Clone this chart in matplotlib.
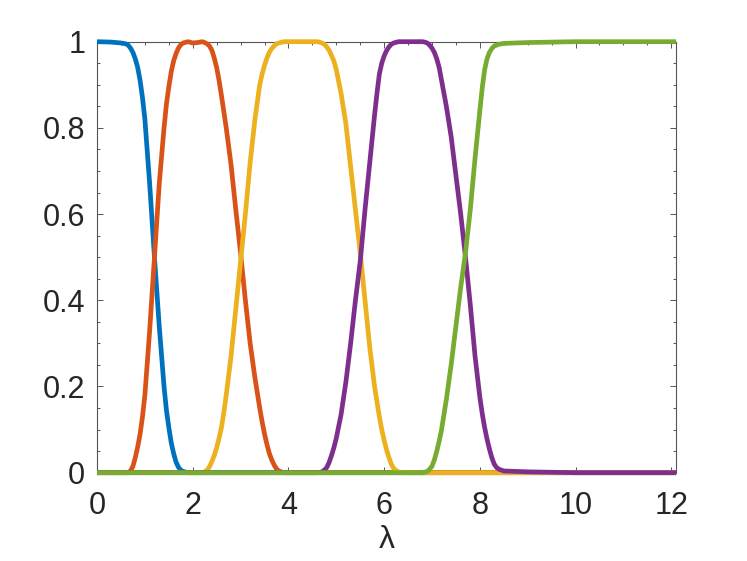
import matplotlib
matplotlib.use("Agg")
import matplotlib.pyplot as plt
from matplotlib.ticker import MultipleLocator

plt.rcParams['font.family'] = ['Liberation Sans', 'DejaVu Sans']

# ---- data ----
blue_x = [0.0, 0.3, 0.5, 0.6, 0.65, 0.7, 0.75, 0.8, 0.85, 0.9, 0.95, 1.0, 1.1, 1.2, 1.3, 1.4, 1.45,
          1.5, 1.55, 1.6, 1.65, 1.7, 1.75, 1.8, 1.9, 12.1]
blue_y = [1.0, 0.999, 0.997, 0.995, 0.992, 0.985, 0.975, 0.96, 0.94, 0.91, 0.87, 0.82, 0.67, 0.50, 0.34, 0.20, 0.145,
          0.105, 0.07, 0.045, 0.025, 0.013, 0.006, 0.003, 0.0, 0.0]

orange_x = [0.0, 0.6, 0.65, 0.7, 0.75, 0.8, 0.85, 0.9, 0.95, 1.0, 1.1, 1.2, 1.3, 1.4, 1.45, 1.5, 1.55, 1.6, 1.65,
            1.7, 1.75, 1.8, 1.9, 2.0, 2.1, 2.2, 2.25, 2.3, 2.35, 2.4, 2.45, 2.5, 2.55, 2.6, 2.7, 2.8, 2.9,
            3.0, 3.1, 3.2, 3.3, 3.4, 3.45, 3.5, 3.55, 3.6, 3.65, 3.7, 3.75, 3.8, 3.9, 12.1]
orange_y = [0.0, 0.0, 0.001, 0.004, 0.015, 0.035, 0.06, 0.09, 0.13, 0.18, 0.33, 0.50, 0.67, 0.80, 0.855, 0.895, 0.93, 0.955, 0.972,
            0.985, 0.993, 0.997, 1.0, 0.997, 0.998, 1.0, 0.998, 0.995, 0.99, 0.98, 0.962, 0.94, 0.91, 0.875, 0.80, 0.715, 0.61,
            0.51, 0.40, 0.30, 0.22, 0.15, 0.118, 0.09, 0.066, 0.045, 0.03, 0.018, 0.009, 0.004, 0.0, 0.0]

yellow_x = [0.0, 2.2, 2.25, 2.3, 2.35, 2.4, 2.45, 2.5, 2.55, 2.6, 2.65, 2.7, 2.8, 2.9, 3.0, 3.1, 3.2, 3.3, 3.4, 3.45,
            3.5, 3.55, 3.6, 3.65, 3.7, 3.75, 3.8, 3.9, 4.6, 4.65, 4.7, 4.75, 4.8, 4.85, 4.9, 4.95, 5.0, 5.1,
            5.2, 5.3, 5.4, 5.5, 5.6, 5.7, 5.8, 5.9, 5.95, 6.0, 6.05, 6.1, 6.15, 6.2, 6.25, 6.3, 6.4, 12.1]
yellow_y = [0.0, 0.0, 0.002, 0.006, 0.014, 0.026, 0.04, 0.058, 0.08, 0.105, 0.14, 0.18, 0.27, 0.38, 0.49, 0.60, 0.72, 0.82, 0.90, 0.925,
            0.945, 0.962, 0.975, 0.984, 0.99, 0.995, 0.997, 1.0, 1.0, 0.999, 0.997, 0.994, 0.988, 0.98, 0.968, 0.955, 0.935, 0.88,
            0.81, 0.71, 0.61, 0.51, 0.40, 0.29, 0.20, 0.13, 0.10, 0.075, 0.053, 0.035, 0.02, 0.01, 0.005, 0.002, 0.0, 0.0]

purple_x = [0.0, 4.6, 4.65, 4.7, 4.75, 4.8, 4.85, 4.9, 4.95, 5.0, 5.1, 5.2, 5.3, 5.4, 5.5, 5.6, 5.7, 5.8, 5.85,
            5.9, 5.95, 6.0, 6.05, 6.1, 6.15, 6.2, 6.3, 6.8, 6.85, 6.9, 6.95, 7.0, 7.05, 7.1, 7.15, 7.2, 7.3,
            7.4, 7.5, 7.6, 7.7, 7.8, 7.9, 8.0, 8.05, 8.1, 8.15, 8.2, 8.25, 8.3, 8.35, 8.4, 8.5, 9.0, 9.5, 10.0, 12.1]
purple_y = [0.0, 0.0, 0.0005, 0.002, 0.006, 0.012, 0.024, 0.04, 0.058, 0.08, 0.135, 0.21, 0.30, 0.40, 0.49, 0.61, 0.72, 0.83, 0.88,
            0.925, 0.95, 0.967, 0.979, 0.988, 0.994, 0.997, 1.0, 1.0, 0.999, 0.997, 0.992, 0.985, 0.975, 0.96, 0.94, 0.91, 0.85,
            0.78, 0.69, 0.60, 0.50, 0.39, 0.27, 0.175, 0.137, 0.105, 0.078, 0.055, 0.035, 0.02, 0.012, 0.008, 0.004, 0.002, 0.001, 0.0, 0.0]

green_x = [0.0, 6.8, 6.85, 6.9, 6.95, 7.0, 7.05, 7.1, 7.15, 7.2, 7.3, 7.4, 7.5, 7.6, 7.7, 7.8, 7.9, 8.0, 8.05,
           8.1, 8.15, 8.2, 8.25, 8.3, 8.4, 8.5, 9.0, 9.5, 10.0, 12.1]
green_y = [0.0, 0.0, 0.001, 0.003, 0.008, 0.015, 0.03, 0.05, 0.073, 0.10, 0.17, 0.25, 0.34, 0.43, 0.51, 0.61, 0.73, 0.84, 0.893,
           0.935, 0.96, 0.975, 0.984, 0.99, 0.994, 0.996, 0.998, 0.999, 1.0, 1.0]

series = [
    (blue_x, blue_y, '#0072BD'),
    (orange_x, orange_y, '#D95319'),
    (yellow_x, yellow_y, '#EDB120'),
    (purple_x, purple_y, '#7E2F8E'),
    (green_x, green_y, '#77AC30'),
]

x_ticks = [0, 2, 4, 6, 8, 10, 12]
y_ticks = [0, 0.2, 0.4, 0.6, 0.8, 1]
y_tick_labels = ['0', '0.2', '0.4', '0.6', '0.8', '1']
x_label = 'λ'

# ---- figure ----
fig = plt.figure(figsize=(7.47, 5.61), dpi=100)
ax = fig.add_axes([0.1299, 0.1574, 0.905 - 0.1299, 0.9257 - 0.1574])

for xs, ys, c in series:
    ax.plot(xs, ys, color=c, linewidth=3.4, solid_joinstyle='round',
            solid_capstyle='butt', clip_on=False)

ax.set_xlim(0, 12.1)
ax.set_ylim(0, 1)
ax.set_xticks(x_ticks)
ax.set_xticklabels([str(t) for t in x_ticks])
ax.set_yticks(y_ticks)
ax.set_yticklabels(y_tick_labels)
ax.xaxis.set_minor_locator(MultipleLocator(0.5))
ax.yaxis.set_minor_locator(MultipleLocator(0.05))

axcol = '#262626'
for s in ax.spines.values():
    s.set_color('#555555')
    s.set_linewidth(0.8)
    s.set_zorder(0.5)

ax.tick_params(which='both', direction='in', top=True, right=True, color='#555555', width=0.7)
ax.tick_params(which='major', length=4.2, labelsize=22, labelcolor=axcol)
ax.tick_params(which='minor', length=2.4)
ax.tick_params(axis='x', which='major', pad=13)
ax.tick_params(axis='y', which='major', pad=8.5)

ax.set_xlabel(x_label, fontsize=23, color=axcol, labelpad=3)

fig.savefig('out.png', dpi=100, facecolor='white')
